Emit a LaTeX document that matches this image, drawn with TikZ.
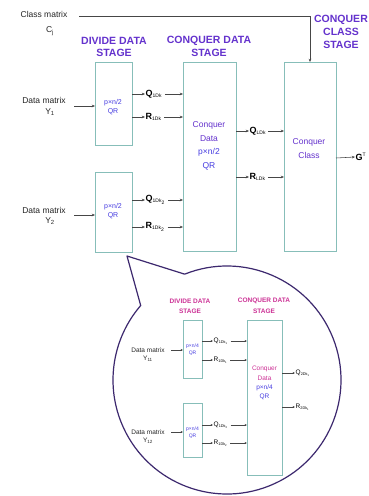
\documentclass[tikz,border=0pt]{standalone}
\usepackage{fontspec}
\setmainfont{Liberation Sans}
\usetikzlibrary{arrows.meta}
\definecolor{boxc}{RGB}{135,190,185}
\definecolor{stagec}{RGB}{100,50,205}
\definecolor{innerc}{RGB}{70,60,225}
\definecolor{pinkc}{RGB}{205,50,150}
\definecolor{circc}{RGB}{60,40,110}
\definecolor{arrc}{RGB}{70,70,70}
\tikzset{
  blk/.style={draw=boxc,line width=0.9pt,fill=white},
  stagetxt/.style={text=stagec,font=\fontsize{10.5}{10.5}\selectfont\bfseries,inner sep=0pt},
  smallstage/.style={text=pinkc,font=\fontsize{6.5}{6.5}\selectfont\bfseries,inner sep=0pt},
  lbl/.style={font=\fontsize{8.5}{8.5}\selectfont,inner sep=0pt,text=black!85},
  slbl/.style={font=\fontsize{6.5}{6.5}\selectfont,inner sep=0pt,text=black!85},
  intxt/.style={font=\fontsize{7}{7}\selectfont,inner sep=0pt,text=innerc},
  bigtxt/.style={font=\fontsize{8.5}{8.5}\selectfont,inner sep=0pt,text=stagec},
  sintxt/.style={font=\fontsize{5}{5}\selectfont,inner sep=0pt,text=innerc},
  qlbl/.style={font=\fontsize{9}{9}\selectfont\bfseries,inner sep=0.5pt,anchor=west},
  sqlbl/.style={font=\fontsize{6.5}{6.5}\selectfont,inner sep=0.5pt,anchor=west},
  arr/.style={draw=arrc,line width=0.55pt,-{Stealth[length=3.2pt,width=2.6pt]}},
  sarr/.style={draw=arrc,line width=0.45pt,-{Stealth[length=2.4pt,width=2pt]}}
}
\newcommand{\qsub}[1]{\textsubscript{\fontsize{5}{5}\selectfont\mdseries #1}}
\newcommand{\sqsub}[1]{\textsubscript{\fontsize{3.8}{3.8}\selectfont #1}}
\begin{document}
\begin{tikzpicture}[x=1pt,y=-1pt]
\useasboundingbox[fill=white] (0,0) rectangle (368,496);

% ---------- main diagram ----------
\node[lbl] (cm) at (44,14) {Class matrix};
\node[lbl] (cj) at (50,31) {C\textsubscript{j}};
\node[stagetxt] (ds1) at (114,41) {DIVIDE DATA};
\node[stagetxt] (ds2) at (114,53) {STAGE};
\node[stagetxt] (cs1) at (209,41) {CONQUER DATA};
\node[stagetxt] (cs2) at (209,53) {STAGE};
\node[stagetxt] (cc1) at (341,20) {CONQUER};
\node[stagetxt] (cc2) at (341,32) {CLASS};
\node[stagetxt] (cc3) at (341,45) {STAGE};

\path[blk] (95,62) rectangle (132,145);
\coordinate (d1w) at (95,106);
\coordinate (d1q) at (132,94);
\coordinate (d1r) at (132,117);
\path[blk] (95,172) rectangle (132,252);
\coordinate (d2w) at (95,215);
\coordinate (d2q) at (132,200);
\coordinate (d2r) at (132,227);
\coordinate (d2tip) at (127,256);
\path[blk] (183,62) rectangle (236,251);
\path[blk] (284,62) rectangle (336,251);
\coordinate (cctop) at (310,62);
\coordinate (cmend) at (79,16);
\coordinate (ccorner) at (310,16);

\node[intxt] (b1a) at (113,103) {p×n/2};
\node[intxt] (b1b) at (113,112) {QR};
\node[intxt] (b2a) at (113,207) {p×n/2};
\node[intxt] (b2b) at (113,216) {QR};
\node[bigtxt] (cda) at (209,125) {Conquer};
\node[bigtxt] (cdb) at (209,139) {Data};
\node[bigtxt,text=innerc] (cdc) at (209,152) {p×n/2};
\node[bigtxt,text=innerc] (cdd) at (209,166) {QR};
\node[bigtxt] (cca) at (309,142) {Conquer};
\node[bigtxt] (ccb) at (309,155) {Class};

\draw[draw=arrc,line width=0.55pt] (cmend) -- (ccorner);
\draw[arr] (ccorner) -- (cctop);

\node[lbl] (dm1) at (44,100) {Data matrix};
\node[lbl] (y1) at (50,112) {Y\textsubscript{1}};
\node[lbl] (dm2) at (44,210) {Data matrix};
\node[lbl] (y2) at (50,221) {Y\textsubscript{2}};
\coordinate (dm1e) at (74,106);
\coordinate (dm2e) at (74,215);
\draw[arr] (dm1e) -- (d1w);
\draw[arr] (dm2e) -- (d2w);

% outputs of divide boxes
\node[qlbl] (q1) at (145,94) {Q\qsub{1Dk}};
\node[qlbl] (r1) at (145,117) {R\qsub{1Dk}};
\node[qlbl] (q2) at (145,200) {Q\qsub{1Dk\textsubscript{2}}};
\node[qlbl] (r2) at (145,227) {R\qsub{1Dk\textsubscript{2}}};
\draw[arr] (d1q) -- (q1.west);
\draw[arr] (d1r) -- (r1.west);
\draw[arr] (d2q) -- (q2.west);
\draw[arr] (d2r) -- (r2.west);
\coordinate (cd1) at (183,94);
\coordinate (cd2) at (183,117);
\coordinate (cd3) at (183,200);
\coordinate (cd4) at (183,227);
\draw[arr] (q1.east) ++(2,0) -- (cd1);
\draw[arr] (r1.east) ++(2,0) -- (cd2);
\draw[arr] (q2.east) ++(2,0) -- (cd3);
\draw[arr] (r2.east) ++(2,0) -- (cd4);

% outputs of conquer data
\coordinate (cdq) at (236,131);
\coordinate (cdr) at (236,177);
\node[qlbl] (q3) at (249,131) {Q\qsub{LDk}};
\node[qlbl] (r3) at (249,177) {R\qsub{LDk}};
\draw[arr] (cdq) -- (q3.west);
\draw[arr] (cdr) -- (r3.west);
\coordinate (cc1in) at (284,131);
\coordinate (cc2in) at (284,177);
\draw[arr] (q3.east) ++(1.5,0) -- (cc1in);
\draw[arr] (r3.east) ++(1.5,0) -- (cc2in);
\coordinate (ccout) at (336,158);
\node[qlbl] (gt) at (355,157) {G\textsuperscript{\fontsize{5}{5}\selectfont\mdseries T}};
\draw[arr] (ccout) -- (gt.west);

% ---------- callout ----------
\draw[circc,line width=1.2pt,line join=round] (d2tip) -- ({227+114*cos(248.2)}, {380+114*sin(248.2)})
   arc[start angle=248.2,end angle=580.8,radius=114] -- cycle;

\node[smallstage] (ids1) at (190,301) {DIVIDE DATA};
\node[smallstage] (ids2) at (190,311) {STAGE};
\node[smallstage] (ics1) at (264,301) {CONQUER DATA};
\node[smallstage] (ics2) at (264,311) {STAGE};

\path[blk,line width=0.6pt] (183,320) rectangle (202,378);
\path[blk,line width=0.6pt] (183,403) rectangle (202,457);
\path[blk,line width=0.6pt] (247,320) rectangle (282,475);

\node[sintxt] (ib1a) at (192.5,346) {p×n/4};
\node[sintxt] (ib1b) at (192.5,353) {QR};
\node[sintxt] (ib2a) at (192.5,429) {p×n/4};
\node[sintxt] (ib2b) at (192.5,436) {QR};
\node[slbl,text=pinkc] (icda) at (264.5,369) {Conquer};
\node[slbl,text=pinkc] (icdb) at (264.5,378) {Data};
\node[slbl,text=innerc] (icdc) at (264.5,388) {p×n/4};
\node[slbl,text=innerc] (icdd) at (264.5,397) {QR};

\node[slbl] (idm1) at (148,350) {Data matrix};
\node[slbl] (iy1) at (148,359) {Y\textsubscript{11}};
\node[slbl] (idm2) at (148,432) {Data matrix};
\node[slbl] (iy2) at (148,441) {Y\textsubscript{12}};
\coordinate (idm1e) at (171,350);
\coordinate (idm2e) at (171,432);
\coordinate (id1w) at (183,350);
\coordinate (id2w) at (183,432);
\draw[sarr] (idm1e) -- (id1w);
\draw[sarr] (idm2e) -- (id2w);

\coordinate (id1q) at (202,341);
\coordinate (id1r) at (202,360);
\coordinate (id2q) at (202,425);
\coordinate (id2r) at (202,443);
\node[sqlbl] (iq1) at (213,341) {Q\sqsub{1Dk\textsubscript{1}}};
\node[sqlbl] (ir1) at (213,360) {R\sqsub{1Dk\textsubscript{1}}};
\node[sqlbl] (iq2) at (213,425) {Q\sqsub{1Dk\textsubscript{2}}};
\node[sqlbl] (ir2) at (213,443) {R\sqsub{1Dk\textsubscript{2}}};
\draw[sarr] (id1q) -- (iq1.west);
\draw[sarr] (id1r) -- (ir1.west);
\draw[sarr] (id2q) -- (iq2.west);
\draw[sarr] (id2r) -- (ir2.west);
\coordinate (icd1) at (247,341);
\coordinate (icd2) at (247,360);
\coordinate (icd3) at (247,425);
\coordinate (icd4) at (247,443);
\draw[sarr] (iq1.east) ++(2,0) -- (icd1);
\draw[sarr] (ir1.east) ++(2,0) -- (icd2);
\draw[sarr] (iq2.east) ++(2,0) -- (icd3);
\draw[sarr] (ir2.east) ++(2,0) -- (icd4);

\coordinate (icdq) at (282,373);
\coordinate (icdr) at (282,407);
\node[sqlbl] (iq3) at (295,373) {Q\sqsub{2Dk\textsubscript{1}}};
\node[sqlbl] (ir3) at (295,407) {R\sqsub{2Dk\textsubscript{1}}};
\draw[sarr] (icdq) -- (iq3.west);
\draw[sarr] (icdr) -- (ir3.west);
\end{tikzpicture}
\end{document}
